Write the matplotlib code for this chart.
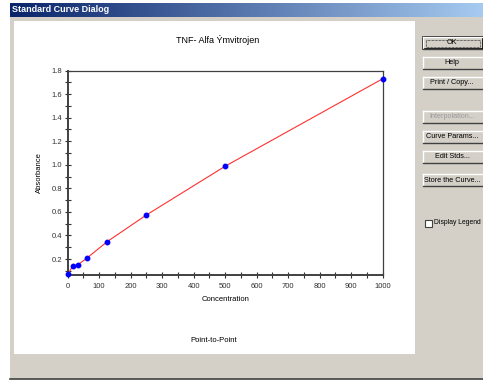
import numpy as np
import matplotlib
matplotlib.use("Agg")
import matplotlib.pyplot as plt
from matplotlib.patches import Rectangle
from matplotlib.ticker import MultipleLocator

# standard dilution series and measured absorbance
concentration = [0, 15.6, 31.25, 62.5, 125, 250, 500, 1000]
absorbance = [0.07, 0.138, 0.149, 0.211, 0.347, 0.574, 0.988, 1.73]

chart_title = "TNF- Alfa Ýmvitrojen"
buttons = ["OK", "Help", "Print / Copy...", "Interpolation...",
           "Curve Params...", "Edit Stds...", "Store the Curve..."]
button_y = [43, 63, 83, 117, 137, 157, 180]

plt.rcParams['font.family'] = ['Liberation Sans', 'DejaVu Sans']
W, H = 483, 383
fig = plt.figure(figsize=(W / 100, H / 100), dpi=100)

# dialog chrome drawn in pixel coordinates
bg = fig.add_axes([0, 0, 1, 1])
bg.axis('off')
bg.add_patch(Rectangle((10, 3), W - 10, 376, color='#d4d0c8', lw=0, zorder=0))
bg.plot([10, W], [378.5, 378.5], color='#404040', lw=1.2)
grad = np.linspace(0, 1, 256).reshape(1, -1)
cmap = matplotlib.colors.LinearSegmentedColormap.from_list('tb', ['#0a246a', '#a6caf0'])
bg.imshow(grad, cmap=cmap, extent=(10, W, 17, 3), aspect='auto', zorder=2)
bg.text(12, 10, "Standard Curve Dialog", color='white', fontsize=6.5,
        fontweight='bold', va='center', ha='left', zorder=3)
bg.add_patch(Rectangle((14, 21), 401, 333, color='white', lw=0))

for name, yc in zip(buttons, button_y):
    x0, x1, y0, y1 = 423, 483, yc - 6, yc + 6
    bg.add_patch(Rectangle((x0, y0), x1 - x0, y1 - y0, facecolor='#d4d0c8',
                           edgecolor='none'))
    bg.plot([x0, x1], [y0, y0], color='white', lw=1)
    bg.plot([x0, x0], [y0, y1], color='white', lw=1)
    bg.plot([x0, x1], [y1, y1], color='#404040', lw=1)
    if name == "OK":
        bg.add_patch(Rectangle((x0, y0), x1 - x0, y1 - y0, facecolor='none',
                               edgecolor='black', lw=1.2))
        bg.add_patch(Rectangle((x0 + 3, y0 + 2.5), x1 - x0 - 6, y1 - y0 - 5,
                               facecolor='none', edgecolor='black', lw=0.5,
                               ls=(0, (1, 1))))
    color = '#9a9a9a' if name.startswith("Interp") else 'black'
    bg.text(452, yc, name, fontsize=5.2, ha='center', va='center', color=color)

bg.add_patch(Rectangle((424.5, 219.5), 7, 7, facecolor='white',
                       edgecolor='#404040', lw=0.8))
bg.text(434, 223, "Display Legend", fontsize=4.9, ha='left', va='center')
bg.text(218, 40, chart_title, fontsize=6.5, ha='center', va='center')
bg.text(214, 340, "Point-to-Point", fontsize=5.5, ha='center', va='center')
bg.set_xlim(0, W)
bg.set_ylim(H, 0)

# the chart itself
ax = fig.add_axes([67.7 / W, 1 - 274.7 / H, 315 / W, 204.2 / H])
ax.plot(concentration, absorbance, color='#ff3030', lw=0.8, zorder=2)
ax.plot(concentration, absorbance, 'o', color='#0000ff', ms=3.2, zorder=3,
        clip_on=False)
ax.set_xlim(0, 1000)
ax.set_ylim(0.067, 1.8)
ax.xaxis.set_major_locator(MultipleLocator(100))
ax.xaxis.set_minor_locator(MultipleLocator(50))
ax.yaxis.set_major_locator(MultipleLocator(0.2))
ax.yaxis.set_minor_locator(MultipleLocator(0.1))
ax.yaxis.set_major_formatter(matplotlib.ticker.FormatStrFormatter('%.1f'))
ax.tick_params(which='both', direction='inout', length=4, width=0.8,
               labelsize=5.5, colors='#303030', pad=2)
ax.tick_params(axis='x', pad=4)
for s in ax.spines.values():
    s.set_color('#404040')
    s.set_linewidth(0.9)
ax.spines['left'].set_linewidth(1.4)
ax.spines['bottom'].set_linewidth(1.4)
ax.set_xlabel("Concentration", fontsize=5.5, labelpad=4)
ax.set_ylabel("Absorbance", fontsize=5.5, labelpad=6)

fig.savefig("out.png", dpi=100)
